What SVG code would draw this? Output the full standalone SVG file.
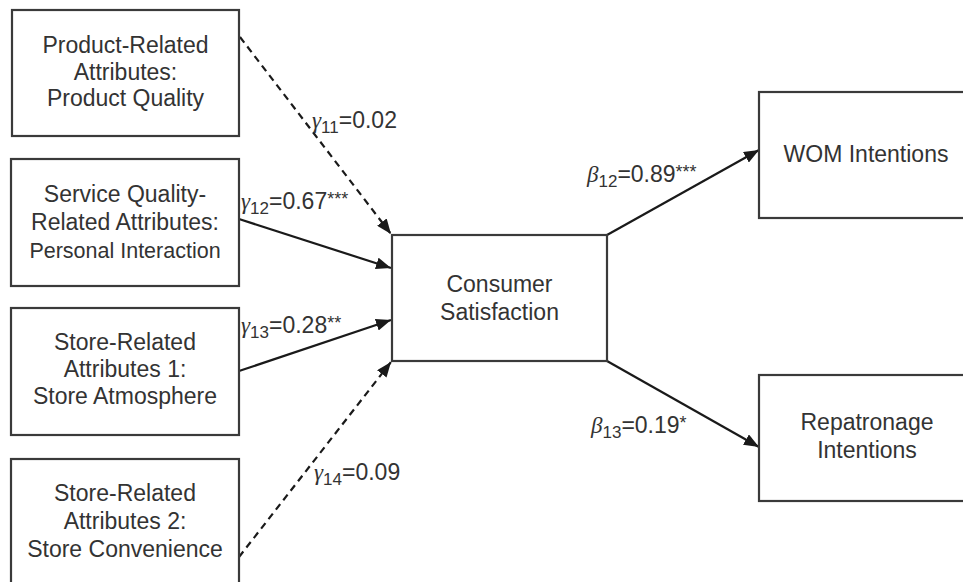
<svg xmlns="http://www.w3.org/2000/svg" width="963" height="582" viewBox="0 0 963 582">
<style>
.box{fill:#fff;stroke:#3a3a3a;stroke-width:2.2}
.t{font-family:"Liberation Sans",Arial,sans-serif;font-size:23px;fill:#333;text-anchor:middle}
.lbl{font-family:"Liberation Sans",Arial,sans-serif;font-size:23px;fill:#333}
.g{font-family:"Liberation Serif","Times New Roman",serif;font-style:italic;font-size:23px}
.sub{font-size:17px}
.sup{font-size:18px}
.c{fill:none;stroke:#1a1a1a;stroke-width:2.2}
.d{stroke-dasharray:7 5}
</style>
<defs>
<marker id="ah" markerUnits="userSpaceOnUse" markerWidth="15" markerHeight="12" refX="15" refY="6" orient="auto">
<path d="M0,0 L15,6 L0,12 z" fill="#1a1a1a"/>
</marker>
</defs>
<g id="connectors">
<line class="c d" x1="240" y1="37" x2="391" y2="234" marker-end="url(#ah)"/>
<line class="c" x1="239" y1="219" x2="391" y2="268" marker-end="url(#ah)"/>
<line class="c" x1="239" y1="371" x2="391" y2="320" marker-end="url(#ah)"/>
<line class="c d" x1="239" y1="557" x2="391" y2="362" marker-end="url(#ah)"/>
<line class="c" x1="607" y1="235" x2="759" y2="150" marker-end="url(#ah)"/>
<line class="c" x1="607" y1="361" x2="759" y2="447" marker-end="url(#ah)"/>
</g>
<g id="labels">
<text class="lbl" x="312" y="128"><tspan class="g">γ</tspan><tspan class="sub" dy="5">11</tspan><tspan dy="-5">=0.02</tspan></text>
<text class="lbl" x="241" y="209"><tspan class="g">γ</tspan><tspan class="sub" dy="5">12</tspan><tspan dy="-5">=0.67</tspan><tspan class="sup" dy="-4">***</tspan></text>
<text class="lbl" x="241" y="333"><tspan class="g">γ</tspan><tspan class="sub" dy="5">13</tspan><tspan dy="-5">=0.28</tspan><tspan class="sup" dy="-4">**</tspan></text>
<text class="lbl" x="314" y="480"><tspan class="g">γ</tspan><tspan class="sub" dy="5">14</tspan><tspan dy="-5">=0.09</tspan></text>
<text class="lbl" x="587" y="182"><tspan class="g">β</tspan><tspan class="sub" dy="5">12</tspan><tspan dy="-5">=0.89</tspan><tspan class="sup" dy="-4">***</tspan></text>
<text class="lbl" x="591" y="433"><tspan class="g">β</tspan><tspan class="sub" dy="5">13</tspan><tspan dy="-5">=0.19</tspan><tspan class="sup" dy="-4">*</tspan></text>
</g>
<g id="product">
<rect class="box" x="12" y="10" width="227" height="126"/>
<text class="t" x="125.5" y="53">Product-Related</text>
<text class="t" x="125.5" y="80">Attributes:</text>
<text class="t" x="125.5" y="106">Product Quality</text>
</g>
<g id="service">
<rect class="box" x="11" y="159" width="228" height="127"/>
<text class="t" x="125" y="202">Service Quality-</text>
<text class="t" x="125" y="230">Related Attributes:</text>
<text class="t" x="125" y="258" style="font-size:21.5px">Personal Interaction</text>
</g>
<g id="store1">
<rect class="box" x="11" y="308" width="228" height="127"/>
<text class="t" x="125" y="350">Store-Related</text>
<text class="t" x="125" y="377">Attributes 1:</text>
<text class="t" x="125" y="404">Store Atmosphere</text>
</g>
<g id="store2">
<rect class="box" x="11" y="459" width="228" height="140"/>
<text class="t" x="125" y="501">Store-Related</text>
<text class="t" x="125" y="529">Attributes 2:</text>
<text class="t" x="125" y="557">Store Convenience</text>
</g>
<g id="satisfaction">
<rect class="box" x="392" y="235" width="215" height="126"/>
<text class="t" x="499.5" y="292">Consumer</text>
<text class="t" x="499.5" y="320">Satisfaction</text>
</g>
<g id="wom">
<rect class="box" x="759" y="92" width="214" height="126"/>
<text class="t" x="866" y="162">WOM Intentions</text>
</g>
<g id="repatronage">
<rect class="box" x="759" y="375" width="214" height="126"/>
<text class="t" x="867" y="430">Repatronage</text>
<text class="t" x="867" y="458">Intentions</text>
</g>
</svg>
